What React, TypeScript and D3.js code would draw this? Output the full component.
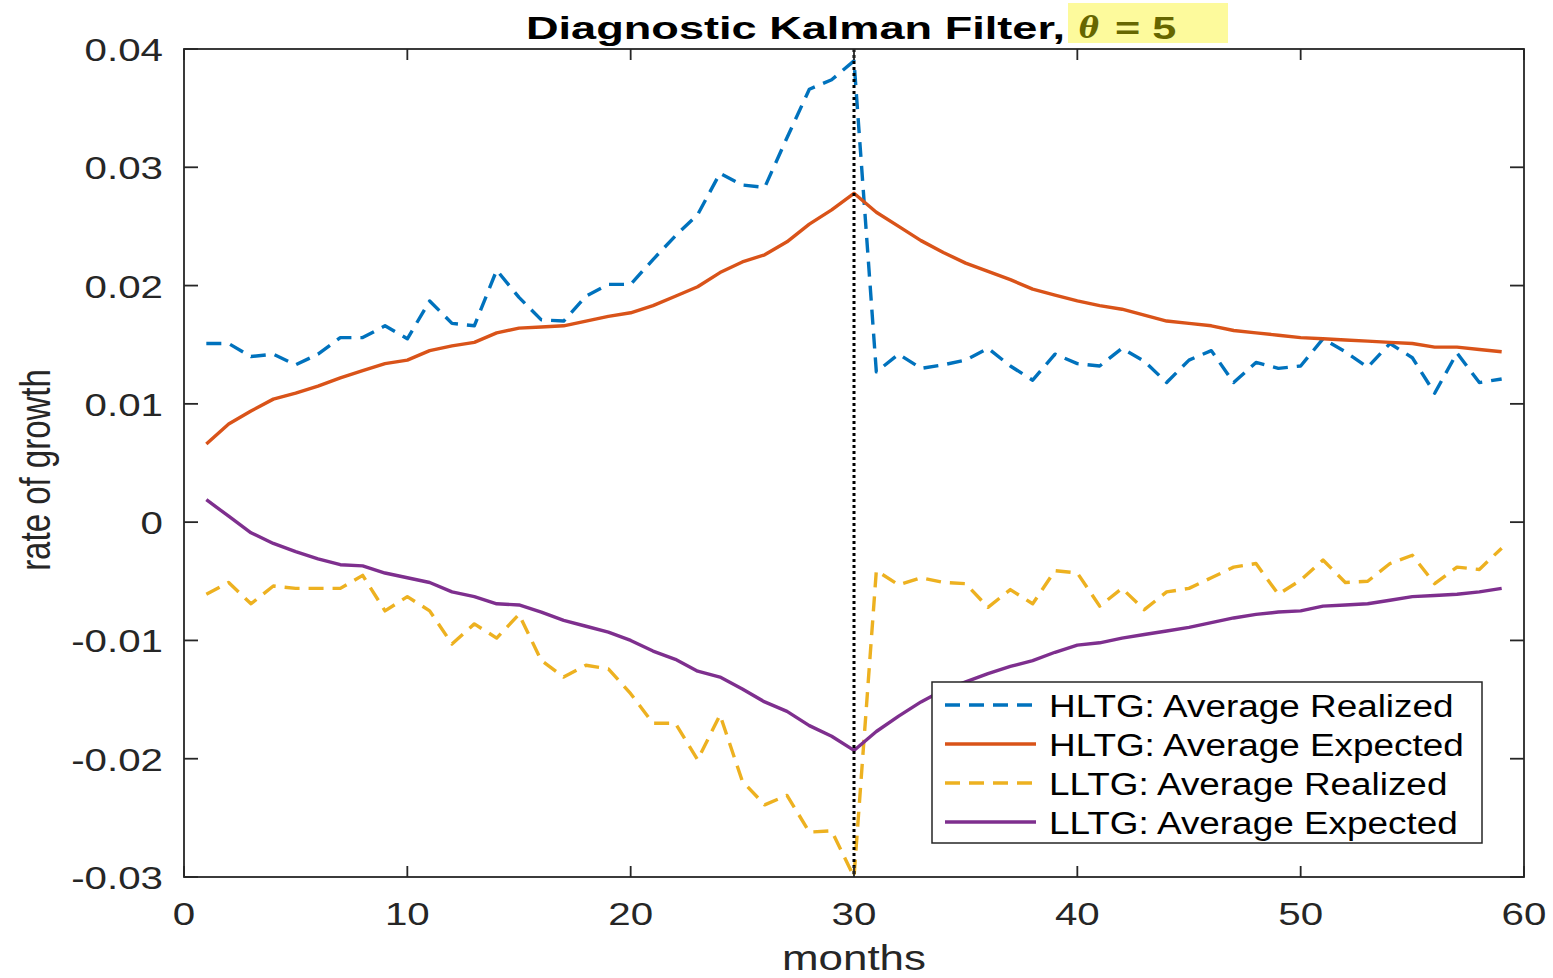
import React from "react";
import * as d3 from "d3";

const months: number[] = Array.from({ length: 59 }, (_, i) => i + 1);

const hltgRealized: number[] = [
  0.0151, 0.0151, 0.014, 0.0142, 0.0133, 0.0142, 0.0156, 0.0156, 0.0166, 0.0155,
  0.0187, 0.0168, 0.0166, 0.0213, 0.019, 0.0171, 0.017, 0.0191, 0.0201, 0.0201,
  0.0222, 0.0242, 0.026, 0.0295, 0.0285, 0.0283, 0.0325, 0.0366, 0.0374, 0.039,
  0.0127, 0.0142, 0.013, 0.0133, 0.0137, 0.0147, 0.0132, 0.012, 0.0142, 0.0134,
  0.0132, 0.0147, 0.0136, 0.0118, 0.0137, 0.0145, 0.0118, 0.0135, 0.013, 0.0132,
  0.0155, 0.0144, 0.0131, 0.0151, 0.0139, 0.0109, 0.0143, 0.0118, 0.0121,
];

const hltgExpected: number[] = [
  0.0066, 0.0083, 0.0094, 0.0104, 0.0109, 0.0115, 0.0122, 0.0128, 0.0134, 0.0137,
  0.0145, 0.0149, 0.0152, 0.016, 0.0164, 0.0165, 0.0166, 0.017, 0.0174, 0.0177,
  0.0183, 0.0191, 0.0199, 0.0211, 0.022, 0.0226, 0.0237, 0.0252, 0.0264, 0.0278,
  0.0262, 0.025, 0.0238, 0.0228, 0.0219, 0.0212, 0.0205, 0.0197, 0.0192, 0.0187,
  0.0183, 0.018, 0.0175, 0.017, 0.0168, 0.0166, 0.0162, 0.016, 0.0158, 0.0156,
  0.0155, 0.0154, 0.0153, 0.0152, 0.0151, 0.0148, 0.0148, 0.0146, 0.0144,
];

const lltgRealized: number[] = [
  -0.0061, -0.0051, -0.0069, -0.0054, -0.0056, -0.0056, -0.0056, -0.0045, -0.0075, -0.0063,
  -0.0075, -0.0103, -0.0086, -0.0098, -0.0078, -0.0117, -0.0131, -0.0121, -0.0124, -0.0145,
  -0.017, -0.017, -0.0201, -0.0163, -0.0219, -0.0239, -0.0231, -0.0262, -0.0261, -0.03,
  -0.0041, -0.0053, -0.0047, -0.0051, -0.0052, -0.0072, -0.0057, -0.0069, -0.0041, -0.0043,
  -0.0071, -0.0056, -0.0074, -0.0059, -0.0056, -0.0047, -0.0038, -0.0035, -0.0061, -0.0049,
  -0.0032, -0.0051, -0.005, -0.0035, -0.0028, -0.0052, -0.0038, -0.004, -0.0022,
];

const lltgExpected: number[] = [
  0.0019, 0.0005, -0.0009, -0.0018, -0.0025, -0.0031, -0.0036, -0.0037, -0.0043, -0.0047,
  -0.0051, -0.0059, -0.0063, -0.0069, -0.007, -0.0076, -0.0083, -0.0088, -0.0093, -0.01,
  -0.0109, -0.0116, -0.0126, -0.0131, -0.0141, -0.0152, -0.016, -0.0172, -0.0181, -0.0193,
  -0.0177, -0.0164, -0.0152, -0.0142, -0.0135, -0.0128, -0.0122, -0.0117, -0.011, -0.0104,
  -0.0102, -0.0098, -0.0095, -0.0092, -0.0089, -0.0085, -0.0081, -0.0078, -0.0076, -0.0075,
  -0.0071, -0.007, -0.0069, -0.0066, -0.0063, -0.0062, -0.0061, -0.0059, -0.0056,
];

const xTicks: number[] = [0, 10, 20, 30, 40, 50, 60];
const yTicks: number[] = [-0.03, -0.02, -0.01, 0, 0.01, 0.02, 0.03, 0.04];
const yTickLabels: string[] = ["-0.03", "-0.02", "-0.01", "0", "0.01", "0.02", "0.03", "0.04"];
const breakMonth = 30;

const seriesNames: string[] = [
  "HLTG: Average Realized",
  "HLTG: Average Expected",
  "LLTG: Average Realized",
  "LLTG: Average Expected",
];
const seriesColors: string[] = ["#0072BD", "#D95319", "#EDB120", "#7E2F8E"];
const seriesDashed: boolean[] = [true, false, true, false];
const seriesData: number[][] = [hltgRealized, hltgExpected, lltgRealized, lltgExpected];

const W = 1553;
const H = 978;
const L = 184;
const R = 1524;
const T = 49;
const B = 877;
const FONT = "'Liberation Sans', Arial, Helvetica, sans-serif";
const AX = "#262626";

export default function App() {
  const x = d3.scaleLinear().domain([0, 60]).range([L, R]);
  const y = d3.scaleLinear().domain([-0.03, 0.04]).range([B, T]);
  const line = d3
    .line<number>()
    .x((_, i) => x(months[i]))
    .y((d) => y(d));

  const legX = 932;
  const legY = 682;
  const legW = 550;
  const legH = 161;
  const rowYs = [705, 744, 783, 822];

  return (
    <svg
      width={W}
      height={H}
      style={{ position: "absolute", left: 0, top: 0, background: "#fff" }}
    >
      <rect x={0} y={0} width={W} height={H} fill="#fff" />

      {seriesData.map((data, k) => (
        <path
          key={k}
          d={line(data) || ""}
          fill="none"
          stroke={seriesColors[k]}
          strokeWidth={3.4}
          strokeDasharray={seriesDashed[k] ? "15,9" : undefined}
          strokeLinejoin="round"
        />
      ))}

      <line
        x1={x(breakMonth)}
        x2={x(breakMonth)}
        y1={T}
        y2={B}
        stroke="#000"
        strokeWidth={3}
        strokeDasharray="3,3"
      />

      <rect x={L} y={T} width={R - L} height={B - T} fill="none" stroke={AX} strokeWidth={1.8} />

      {xTicks.map((t) => (
        <g key={"xt" + t}>
          <line x1={x(t)} x2={x(t)} y1={B} y2={B - 11} stroke={AX} strokeWidth={1.8} />
          <line x1={x(t)} x2={x(t)} y1={T} y2={T + 11} stroke={AX} strokeWidth={1.8} />
          <text
            transform={`translate(${x(t)},925) scale(1.3,1)`}
            textAnchor="middle"
            fontFamily={FONT}
            fontSize={31}
            fill={AX}
          >
            {String(t)}
          </text>
        </g>
      ))}

      {yTicks.map((t, i) => (
        <g key={"yt" + i}>
          <line x1={L} x2={L + 14} y1={y(t)} y2={y(t)} stroke={AX} strokeWidth={1.8} />
          <line x1={R} x2={R - 14} y1={y(t)} y2={y(t)} stroke={AX} strokeWidth={1.8} />
          <text
            transform={`translate(163,${y(t) + 12}) scale(1.3,1)`}
            textAnchor="end"
            fontFamily={FONT}
            fontSize={31}
            fill={AX}
          >
            {yTickLabels[i]}
          </text>
        </g>
      ))}

      <text
        transform={`translate(${(L + R) / 2},970) scale(1.22,1)`}
        textAnchor="middle"
        fontFamily={FONT}
        fontSize={36}
        fill={AX}
      >
        months
      </text>
      <text
        transform={`translate(50,470) rotate(-90) scale(1,1.3)`}
        textAnchor="middle"
        fontFamily={FONT}
        fontSize={33}
        fill={AX}
      >
        rate of growth
      </text>

      <text
        x={526}
        y={39}
        fontFamily={FONT}
        fontSize={32}
        fontWeight="bold"
        fill="#000"
        textLength={539}
        lengthAdjust="spacingAndGlyphs"
      >
        Diagnostic Kalman Filter,
      </text>
      <rect x={1068} y={3} width={160} height={40} fill="#FDFA9C" />
      <text
        x={1079}
        y={38}
        fontFamily="'DejaVu Serif', 'Liberation Serif', serif"
        fontStyle="italic"
        fontWeight="bold"
        fontSize={30}
        fill="#666600"
      >
        θ
      </text>
      <text
        transform={`translate(1115,39) scale(1.35,1)`}
        fontFamily={FONT}
        fontWeight="bold"
        fontSize={32}
        fill="#666600"
      >
        = 5
      </text>

      <rect x={legX} y={legY} width={legW} height={legH} fill="#fff" stroke={AX} strokeWidth={1.5} />
      {seriesNames.map((name, k) => (
        <g key={"lg" + k}>
          <line
            x1={945}
            x2={1036}
            y1={rowYs[k]}
            y2={rowYs[k]}
            stroke={seriesColors[k]}
            strokeWidth={3.4}
            strokeDasharray={seriesDashed[k] ? "15,9" : undefined}
          />
          <text
            transform={`translate(1049,${rowYs[k] + 12}) scale(1.19,1)`}
            fontFamily={FONT}
            fontSize={31}
            fill="#000"
          >
            {name}
          </text>
        </g>
      ))}
    </svg>
  );
}
